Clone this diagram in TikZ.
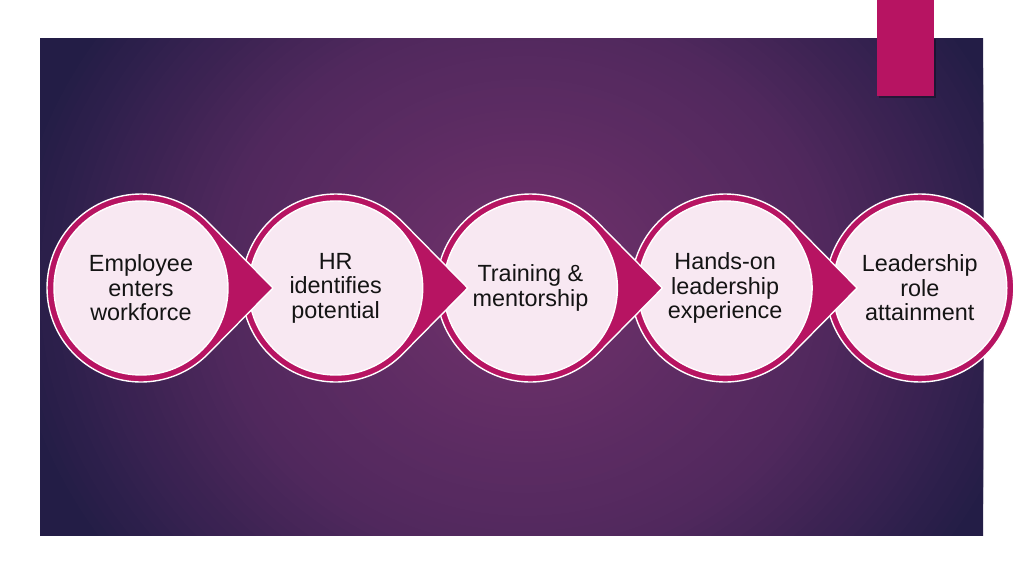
\documentclass[tikz,border=0pt]{standalone}
\usepackage{fontspec}
\setmainfont{Liberation Sans}
\usetikzlibrary{calc}
\definecolor{bgc}{RGB}{114,50,108}
\definecolor{bgm}{RGB}{80,40,93}
\definecolor{bge}{RGB}{35,29,70}
\definecolor{mag}{RGB}{183,20,98}
\definecolor{pinkfill}{RGB}{248,232,242}
\definecolor{txt}{RGB}{20,20,20}
\tikzset{
  outershape/.style={fill=mag, draw=white, line width=1.4pt, line join=miter},
  innercircle/.style={fill=pinkfill, draw=white, line width=1.4pt},
  steptext/.style={align=center, text=txt, font=\fontsize{23.4}{24.6}\selectfont, inner sep=0pt},
}
\begin{document}
\begin{tikzpicture}[x=1pt,y=1pt]
\useasboundingbox (0,0) rectangle (1024,576);
\fill[white] (0,0) rectangle (1024,576);
% background panel with radial glow
\begin{scope}
  \clip (40,41) rectangle (983,537);
  \fill[bge] (30,30) rectangle (993,547);
  \foreach \i in {60,59,...,1}{
    \pgfmathsetmacro\t{\i/60}
    \ifdim \t pt > 0.6pt
      \pgfmathsetmacro\p{(\t-0.6)/0.4*100}
      \colorlet{cur}{bge!\p!bgm}
    \else
      \pgfmathsetmacro\p{\t/0.6*100}
      \colorlet{cur}{bgm!\p!bgc}
    \fi
    \fill[cur] (525,290) ellipse [x radius={520*\t}, y radius={460*\t}];
  }
\end{scope}
% magenta tab with shadow
\fill[black, opacity=0.3] (879,478) rectangle (936,537);
\fill[mag] (877,480) rectangle (934,576);
% centres
\coordinate (c1) at (141,288);
\coordinate (c2) at (335.7,288);
\coordinate (c3) at (530.4,288);
\coordinate (c4) at (725.1,288);
\coordinate (c5) at (919.8,288);
% circle 5 (plain)
\draw[outershape] (c5) circle [radius=94];
\draw[innercircle] (c5) circle [radius=87];
% teardrops 4..1 (earlier ones on top)
\foreach \c in {c4,c3,c2,c1}{
  \draw[outershape] ([shift={(132,0)}]\c) -- ([shift={(44.6:94)}]\c)
     arc[start angle=44.6, end angle=315.4, radius=94] -- cycle;
  \draw[innercircle] (\c) circle [radius=87];
}
% texts
\node[steptext] (t1) at (c1) {Employee\\enters\\workforce};
\node[steptext] (t2) at (c2) {HR\\identifies\\potential};
\node[steptext] (t3) at (c3) {Training \&\\mentorship};
\node[steptext] (t4) at (c4) {Hands-on\\leadership\\experience};
\node[steptext] (t5) at (c5) {Leadership\\role\\attainment};
\end{tikzpicture}
\end{document}
